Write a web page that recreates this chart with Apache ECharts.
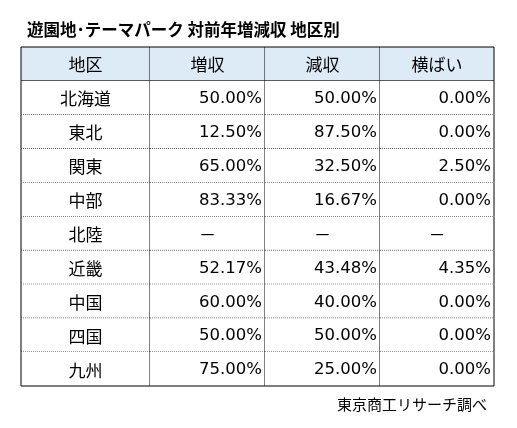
<!DOCTYPE html><html><head><meta charset="utf-8">
<script src="https://cdn.jsdelivr.net/npm/echarts@6/dist/echarts.min.js"></script>
<style>html,body{margin:0;background:#fff}#c{width:517px;height:428px}</style></head><body><div id="c"></div>
<script>
var title='遊園地･テーマパーク 対前年増減収 地区別';
var source='東京商工リサーチ調べ';
var headers=['地区','増収','減収','横ばい'];
var regions=['北海道','東北','関東','中部','北陸','近畿','中国','四国','九州'];
var upVals=[50.00,12.50,65.00,83.33,null,52.17,60.00,50.00,75.00];
var downVals=[50.00,87.50,32.50,16.67,null,43.48,40.00,50.00,25.00];
var flatVals=[0.00,0.00,2.50,0.00,null,4.35,0.00,0.00,0.00];

var rowsCat=['h'].concat(regions);
var colWeights=[129,115,115,114];
var cells=[];
for(var r=0;r<rowsCat.length;r++){for(var c=0;c<4;c++){
  var txt,align,num=false;
  if(r===0){txt=headers[c];align='center';}
  else if(c===0){txt=regions[r-1];align='center';}
  else{var v=[upVals,downVals,flatVals][c-1][r-1];
    if(v===null){txt='－';align='center';}else{txt=v.toFixed(2)+'%';align='right';num=true;}}
  cells.push([c,r,txt,align,num]);
}}
var ch=echarts.init(document.getElementById('c'));
var F='"Noto Sans CJK JP","Noto Sans",sans-serif';
var FN='"DejaVu Sans",sans-serif';
ch.setOption({
  animation:false,
  title:[{text:title,left:22,top:16,textStyle:{fontFamily:F,fontSize:16.5,fontWeight:'bold',color:'#000'}},
         {text:source,right:25,top:392,textStyle:{fontFamily:F,fontSize:15,fontWeight:'normal',color:'#000'}}],
  grid:{left:21,right:23,top:47,bottom:42},
  xAxis:{type:'category',data:[0,1,2,3],show:false},
  yAxis:{type:'category',data:rowsCat,inverse:true,show:false},
  series:[{type:'custom',data:cells,encode:{x:0,y:1},
    renderItem:function(params,api){
      var c=api.value(0),r=api.value(1);
      var cs=params.coordSys;
      var tot=colWeights.reduce(function(a,b){return a+b;},0);
      var x0=cs.x;for(var i=0;i<c;i++)x0+=cs.width*colWeights[i]/tot;
      var w=cs.width*colWeights[c]/tot;
      var cy=api.coord([c,r])[1];var h=api.size([0,1])[1];
      var y0=cy-h/2;
      var cell=cells[params.dataIndex];
      var align=cell[3],txt=cell[2],num=cell[4];
      var ch=[];
      ch.push({type:'rect',shape:{x:x0,y:y0,width:w,height:h},style:{fill:r===0?'#DDEBF7':'#fff'}});
      var tx=align==='right'?x0+w-3:x0+w/2;
      ch.push({type:'text',style:{text:txt,x:tx,y:cy+1,align:align,verticalAlign:'middle',font:(num?'16.5px '+FN:'17px '+F),fill:'#000'}});
      var last=r===rowsCat.length-1;
      var bottomDotted=!(r===0||last);
      ch.push({type:'line',shape:{x1:x0,y1:y0+h,x2:x0+w,y2:y0+h},style:{stroke:'#000',lineWidth:1,lineDash:bottomDotted?[1,1]:null}});
      ch.push({type:'line',shape:{x1:x0+w,y1:y0,x2:x0+w,y2:y0+h},style:{stroke:'#000',lineWidth:1}});
      if(c===0)ch.push({type:'line',shape:{x1:x0,y1:y0,x2:x0,y2:y0+h},style:{stroke:'#000',lineWidth:1}});
      if(r===0)ch.push({type:'line',shape:{x1:x0,y1:y0,x2:x0+w,y2:y0},style:{stroke:'#000',lineWidth:1}});
      return {type:'group',children:ch};
    }}]
});
</script></body></html>
